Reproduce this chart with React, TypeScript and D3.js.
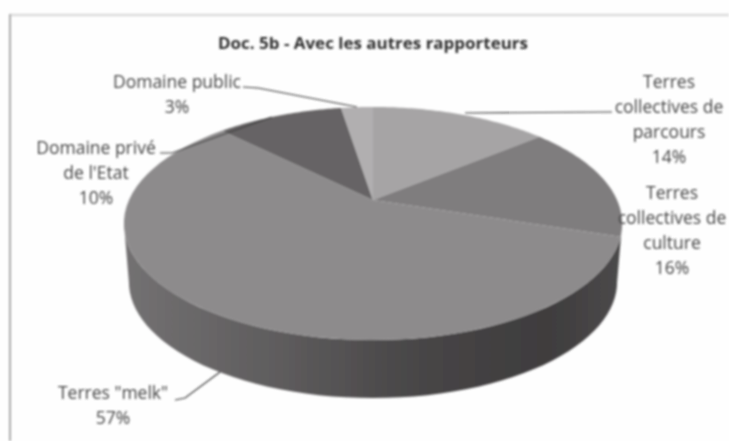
import React from "react";
import * as d3 from "d3";

const W = 729, H = 441;
const categories = ["Terres collectives de parcours", "Terres collectives de culture", 'Terres "melk"', "Domaine privé de l'Etat", "Domaine public"];
const drawnShares = [14, 16, 57.5, 10, 2.5];
const percentLabels = ["14%", "16%", "57%", "10%", "3%"];
const sliceColors = ["#a6a4a5", "#7f7d7e", "#8d8b8c", "#666465", "#b1afb0"];
const labelLines = [
  ["Terres", "collectives de", "parcours"],
  ["Terres", "collectives de", "culture"],
  ['Terres "melk"'],
  ["Domaine privé", "de l'Etat"],
  ["Domaine public"],
];
const labelAnchors: [number, number][] = [[669, 82], [672, 193], [113, 393], [96, 148], [177, 82]];
const leaderPaths = [
  "M612,112 L465,113",
  "",
  "M220,372 L185,398 L175,400",
  "M160,153 L172,153 L272,117",
  "M243,87 L258,88 L357,107",
];

const cx = 373, cy = 200, a = 244, b = 111.8, k = 0.2017, depth = 58;
const project = (t: number, scale = 1, dy = 0): [number, number] => {
  const X = Math.sin(t), Y = -Math.cos(t), d = 1 - k * Y;
  return [cx + (scale * a * X) / d, cy + dy + (b * Y) / d];
};
const arcs = d3.pie<number>().sort(null).startAngle(0).endAngle(2 * Math.PI)(drawnShares);
const line = d3.line();
const sweep = (a0: number, a1: number, scale = 1, dy = 0) =>
  d3.range(0, 61).map((i) => project(a0 + ((a1 - a0) * i) / 60, scale, dy));

export default function App() {
  const tangent = Math.acos(-k);
  const sideStart = tangent, sideEnd = 2 * Math.PI - tangent;
  const top = sweep(sideStart, sideEnd);
  const bottom = sweep(sideEnd, sideStart, 0.98, depth);
  const side = line([...top, ...bottom]) + "Z";
  return (
    <svg width={W} height={H} viewBox={`0 0 ${W} ${H}`}
      style={{ position: "absolute", left: 0, top: 0, background: "#fefefe" }}>
      <defs>
        <filter id="soft" filterUnits="userSpaceOnUse" x="0" y="0" width={W} height={H}>
          <feGaussianBlur stdDeviation="0.85" />
        </filter>
        <linearGradient id="sideGrad" gradientUnits="userSpaceOnUse" x1="124" x2="622" y1="0" y2="0">
          <stop offset="0" stopColor="#737172" />
          <stop offset="0.3" stopColor="#5f5d5e" />
          <stop offset="0.6" stopColor="#474546" />
          <stop offset="0.85" stopColor="#3f3d3e" />
          <stop offset="1" stopColor="#4b494a" />
        </linearGradient>
      </defs>
      <g filter="url(#soft)">
        <path d={`M${W},15 L10,15`} fill="none" stroke="#dcdcdc" strokeWidth={2.5} />
        <path d={`M10,${H} L10,14`} fill="none" stroke="#aaaaaa" strokeWidth={2} />
        <path d={side} fill="url(#sideGrad)" />
        {arcs.map((s, i) => (
          <path key={i} fill={sliceColors[i]}
            d={line([[cx, cy], ...sweep(s.startAngle, s.endAngle)]) + "Z"} />
        ))}
        <g fill="none" stroke="#3c3c3c" strokeWidth={1.2}>
          {leaderPaths.map((p, i) => p && <path key={i} d={p} />)}
        </g>
        <g fontFamily="'Open Sans', 'DejaVu Sans', sans-serif" fontSize={17.5} fill="#454545" textAnchor="middle">
          <text x={373} y={49} fontWeight={700} fontSize={16} textLength={310} lengthAdjust="spacingAndGlyphs" fill="#2e2e2e">Doc. 5b - Avec les autres rapporteurs</text>
          {categories.map((c, i) => {
            const lines = labelLines[i];
            const [x, y] = labelAnchors[i];
            return (
              <text key={c} x={x} y={y + 6}>
                {lines.map((l, j) => <tspan key={j} x={x} dy={j ? 25 : 0}>{l}</tspan>)}
                <tspan x={x} dy={25}>{percentLabels[i]}</tspan>
              </text>
            );
          })}
        </g>
      </g>
    </svg>
  );
}
